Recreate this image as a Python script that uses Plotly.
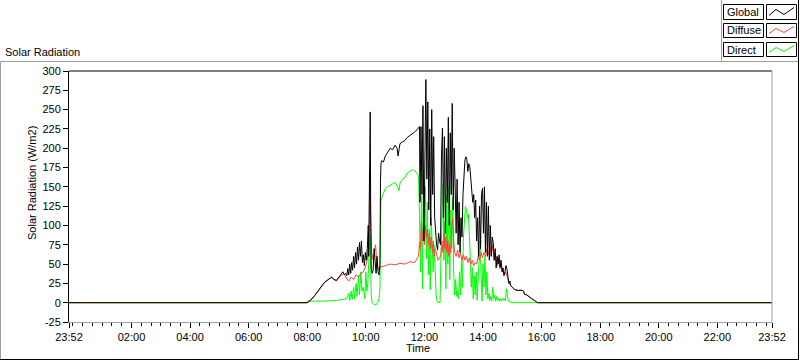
import plotly.graph_objects as go

# ---------------- data ----------------
global_times = ["23:52", "08:00", "08:05", "08:10", "08:15", "08:20", "08:25", "08:30", "08:35", "08:40",
                "08:45", "08:50", "08:55", "09:00", "09:05", "09:10", "09:13", "09:16", "09:19", "09:21",
                "09:23", "09:25", "09:27", "09:29", "09:31", "09:33", "09:35", "09:37", "09:39", "09:41",
                "09:43", "09:45", "09:47", "09:49", "09:51", "09:53", "09:55", "09:57", "09:59", "10:01",
                "10:03", "10:05", "10:06", "10:07", "10:08", "10:09", "10:10", "10:11", "10:13", "10:15",
                "10:17", "10:19", "10:21", "10:23", "10:25", "10:27", "10:29", "10:30", "10:31", "10:33",
                "10:36", "10:40", "10:45", "10:50", "10:55", "11:00", "11:04", "11:06", "11:08", "11:10",
                "11:15", "11:20", "11:25", "11:30", "11:35", "11:40", "11:45", "11:48", "11:50", "11:51",
                "11:53", "11:55", "11:57", "11:59", "12:01", "12:03", "12:05", "12:07", "12:09", "12:11",
                "12:13", "12:15", "12:17", "12:19", "12:21", "12:23", "12:25", "12:27", "12:29", "12:31",
                "12:33", "12:35", "12:37", "12:39", "12:41", "12:43", "12:45", "12:47", "12:49", "12:51",
                "12:53", "12:55", "12:57", "12:59", "13:01", "13:03", "13:05", "13:07", "13:09", "13:11",
                "13:13", "13:15", "13:17", "13:19", "13:21", "13:23", "13:25", "13:27", "13:29", "13:31",
                "13:33", "13:35", "13:37", "13:39", "13:41", "13:43", "13:45", "13:47", "13:49", "13:51",
                "13:53", "13:55", "13:57", "13:59", "14:01", "14:03", "14:05", "14:07", "14:09", "14:11",
                "14:13", "14:15", "14:17", "14:19", "14:21", "14:23", "14:25", "14:27", "14:29", "14:31",
                "14:33", "14:35", "14:37", "14:39", "14:41", "14:43", "14:45", "14:47", "14:49", "14:51",
                "14:53", "14:55", "14:57", "15:00", "15:05", "15:10", "15:15", "15:20", "15:23", "15:25",
                "15:30", "15:35", "15:40", "15:45", "15:50", "15:52", "23:52"]
global_values = [0, 0, 2, 5, 9, 13, 18, 22, 26, 29,
                 31, 33, 30, 29, 33, 38, 40, 36, 38, 35,
                 44, 36, 50, 38, 52, 42, 60, 45, 65, 50,
                 72, 55, 78, 60, 80, 52, 62, 48, 65, 55,
                 70, 100, 60, 130, 225, 247, 110, 45, 38, 42,
                 70, 45, 38, 60, 40, 36, 50, 156, 180, 184,
                 182, 190, 196, 200, 198, 204, 200, 190, 198, 206,
                 208, 210, 214, 216, 218, 221, 224, 226, 228, 130,
                 228, 140, 255, 80, 200, 289, 160, 260, 120, 225,
                 100, 250, 140, 215, 110, 90, 75, 68, 90, 80,
                 75, 190, 226, 110, 215, 90, 200, 130, 240, 100,
                 220, 140, 258, 120, 200, 150, 90, 160, 75, 130,
                 65, 110, 85, 140, 170, 185, 189, 185, 170, 180,
                 176, 160, 145, 130, 140, 110, 133, 80, 110, 60,
                 125, 70, 140, 148, 90, 150, 65, 130, 60, 125,
                 55, 100, 60, 85, 78, 55, 70, 45, 60, 50,
                 62, 46, 55, 40, 45, 35, 40, 48, 44, 30,
                 25, 28, 22, 20, 17, 16, 16, 16, 15, 11,
                 10, 7, 5, 3, 1, 0, 0]

diffuse_times = ["23:52", "08:00", "08:10", "08:20", "08:27", "08:35", "08:45", "08:50", "08:55", "09:00",
                 "09:05", "09:10", "09:15", "09:20", "09:25", "09:30", "09:35", "09:40", "09:45", "09:50",
                 "09:55", "10:00", "10:03", "10:05", "10:07", "10:08", "10:09", "10:10", "10:12", "10:15",
                 "10:18", "10:20", "10:22", "10:25", "10:28", "10:30", "10:40", "10:50", "11:00", "11:10",
                 "11:20", "11:30", "11:40", "11:45", "11:48", "11:50", "11:52", "11:54", "11:56", "11:58",
                 "12:00", "12:02", "12:04", "12:06", "12:08", "12:10", "12:12", "12:14", "12:16", "12:18",
                 "12:20", "12:22", "12:25", "12:28", "12:31", "12:34", "12:36", "12:38", "12:40", "12:42",
                 "12:44", "12:46", "12:48", "12:50", "12:52", "12:54", "12:56", "12:58", "13:00", "13:02",
                 "13:05", "13:08", "13:11", "13:14", "13:17", "13:20", "13:23", "13:26", "13:29", "13:32",
                 "13:35", "13:38", "13:41", "13:44", "13:47", "13:50", "13:53", "13:56", "13:59", "14:02",
                 "14:05", "14:08", "14:11", "14:14", "14:17", "14:20", "14:23", "14:26", "14:29", "14:32",
                 "14:35", "14:38", "14:41", "14:44", "14:47", "14:50", "14:53", "14:57", "15:00", "15:05",
                 "15:10", "15:15", "15:20", "15:23", "15:25", "15:30", "15:35", "15:40", "15:45", "15:50",
                 "15:52", "23:52"]
diffuse_values = [0, 0, 5, 13, 20, 26, 31, 33, 30, 28,
                  33, 36, 38, 32, 28, 33, 30, 36, 33, 38,
                  40, 48, 55, 75, 90, 170, 140, 85, 65, 55,
                  70, 75, 55, 45, 42, 46, 48, 50, 49, 51,
                  50, 53, 52, 57, 60, 78, 70, 105, 80, 95,
                  75, 100, 85, 95, 75, 90, 70, 85, 65, 80,
                  60, 70, 60, 55, 58, 62, 80, 65, 90, 70,
                  85, 65, 80, 60, 75, 65, 100, 110, 80, 65,
                  60, 68, 58, 65, 55, 62, 55, 60, 52, 58,
                  50, 55, 48, 52, 50, 60, 55, 65, 58, 65,
                  60, 70, 62, 72, 60, 75, 55, 62, 48, 55,
                  44, 48, 40, 36, 40, 32, 25, 22, 20, 17,
                  16, 16, 16, 15, 11, 10, 7, 5, 3, 1,
                  0, 0]

direct_times = ["23:52", "07:59", "08:00", "08:30", "09:00", "09:15", "09:20", "09:25", "09:27", "09:30",
                "09:32", "09:35", "09:37", "09:40", "09:42", "09:45", "09:47", "09:50", "09:52", "09:55",
                "09:58", "10:00", "10:02", "10:04", "10:06", "10:07", "10:08", "10:09", "10:10", "10:11",
                "10:13", "10:16", "10:20", "10:24", "10:27", "10:29", "10:30", "10:31", "10:35", "10:40",
                "10:45", "10:50", "10:55", "11:00", "11:05", "11:08", "11:10", "11:15", "11:20", "11:25",
                "11:30", "11:35", "11:40", "11:45", "11:48", "11:50", "11:52", "11:54", "11:56", "11:58",
                "12:00", "12:02", "12:04", "12:06", "12:08", "12:10", "12:12", "12:14", "12:16", "12:18",
                "12:20", "12:22", "12:24", "12:26", "12:28", "12:30", "12:32", "12:34", "12:36", "12:38",
                "12:40", "12:42", "12:44", "12:46", "12:48", "12:50", "12:52", "12:54", "12:56", "12:58",
                "13:00", "13:02", "13:04", "13:06", "13:08", "13:10", "13:12", "13:14", "13:16", "13:18",
                "13:20", "13:22", "13:24", "13:26", "13:28", "13:30", "13:32", "13:34", "13:36", "13:38",
                "13:40", "13:42", "13:44", "13:46", "13:48", "13:50", "13:52", "13:54", "13:56", "13:58",
                "14:00", "14:02", "14:04", "14:06", "14:08", "14:10", "14:12", "14:14", "14:16", "14:18",
                "14:20", "14:22", "14:24", "14:26", "14:28", "14:30", "14:32", "14:34", "14:36", "14:38",
                "14:40", "14:42", "14:44", "14:46", "14:48", "14:50", "14:52", "14:55", "15:00", "23:52"]
direct_values = [0, 0, 2, 2, 3, 4, 5, 12, 3, 15,
                 4, 20, 5, 25, 8, 35, 10, 40, 15, 20,
                 5, 40, 15, 25, 50, 90, 70, 87, 40, 10,
                 0, -2, -3, 0, 5, 20, 100, 132, 140, 148,
                 150, 152, 155, 156, 150, 145, 155, 160, 162, 168,
                 170, 172, 171, 168, 165, 113, 40, 138, 18, 171,
                 75, 150, 57, 130, 36, 95, 17, 110, 55, 40,
                 75, 25, 10, 2, 0, 1, 0, 60, 130, 153,
                 55, 105, 18, 140, 50, 150, 30, 120, 70, 135,
                 40, 10, 30, 8, 15, 5, 40, 10, 55, 20,
                 85, 110, 125, 120, 110, 115, 95, 60, 20, 45,
                 5, 35, 10, 40, 3, 25, 60, 80, 40, 2,
                 50, 20, 60, 10, 40, 5, 12, 3, 8, 2,
                 20, 5, 10, 2, 8, 3, 6, 2, 5, 2,
                 6, 3, 5, 2, 18, 5, 2, 1, 0, 0]

x_tick_values = ["23:52", "02:00", "04:00", "06:00", "08:00", "10:00", "12:00",
                 "14:00", "16:00", "18:00", "20:00", "22:00", "23:52"]
y_tick_values = [-25, 0, 25, 50, 75, 100, 125, 150, 175, 200, 225, 250, 275, 300]
legend_names = ["Global", "Diffuse", "Direct"]
series_colors = ["#000000", "#ff4040", "#00ff00"]


def to_minutes(times):
    out = []
    for t in times:
        h, m = t.split(":")
        out.append(int(h) * 60 + int(m))
    if len(out) > 1 and out[0] > out[1]:
        out[0] -= 1440  # first point belongs to previous day
    return out


x_ticks = to_minutes(x_tick_values)
x_ticks[-1] = 1432

FONT = "Liberation Sans"
L, R, T, B = 69, 28, 71, 39
W, H = 800, 361
PW, PH = W - L - R, H - T - B


def px(x):
    return (x - L) / PW


def py(y):
    return (H - B - y) / PH


fig = go.Figure()
order = [(direct_times, direct_values, 2), (diffuse_times, diffuse_values, 1),
         (global_times, global_values, 0)]
for times, vals, idx in order:
    fig.add_trace(go.Scatter(x=to_minutes(times), y=vals, mode="lines",
                             line=dict(color=series_colors[idx], width=1),
                             name=legend_names[idx], showlegend=False))

fig.update_layout(
    width=W, height=H,
    margin=dict(l=L, r=R, t=T, b=B),
    paper_bgcolor="white", plot_bgcolor="white",
    font=dict(family=FONT, size=11, color="black"),
    showlegend=False,
)
fig.update_xaxes(
    range=[-8, 1432], showgrid=False, zeroline=False,
    showline=True, linecolor="#a0a0a0", linewidth=1,
    tickmode="array", tickvals=x_ticks, ticktext=x_tick_values,
    ticks="outside", ticklen=5, tickcolor="black", tickwidth=1,
    minor=dict(ticks="outside", ticklen=3, dtick=20, tick0=0, tickcolor="black", tickwidth=1),
    tickfont=dict(family=FONT, size=11, color="black"),
)
fig.update_yaxes(
    range=[-25, 300], showgrid=False, zeroline=False,
    showline=True, linecolor="black", linewidth=1,
    tickmode="array", tickvals=y_tick_values, ticktext=[str(v) for v in y_tick_values],
    ticks="outside", ticklen=5, tickcolor="black", tickwidth=1,
    tickfont=dict(family=FONT, size=11, color="black"),
)

shapes = []
# plot frame: top black, right gray
shapes.append(dict(type="line", xref="paper", yref="paper", x0=0, x1=1, y0=1, y1=1,
                   line=dict(color="black", width=1)))
shapes.append(dict(type="line", xref="paper", yref="paper", x0=1, x1=1, y0=0, y1=1,
                   line=dict(color="#a0a0a0", width=1)))
# outer panel
shapes.append(dict(type="line", xref="paper", yref="paper", x0=px(0.5), x1=px(798), y0=py(61.5), y1=py(61.5),
                   line=dict(color="#a0a0a0", width=1)))
shapes.append(dict(type="line", xref="paper", yref="paper", x0=px(0.5), x1=px(0.5), y0=py(61.5), y1=py(360),
                   line=dict(color="#a0a0a0", width=1)))
shapes.append(dict(type="line", xref="paper", yref="paper", x0=px(0), x1=px(799), y0=py(359.5), y1=py(359.5),
                   line=dict(color="black", width=1)))
shapes.append(dict(type="line", xref="paper", yref="paper", x0=px(798.5), x1=px(798.5), y0=py(0), y1=py(360),
                   line=dict(color="black", width=1)))
shapes.append(dict(type="line", xref="paper", yref="paper", x0=px(721.5), x1=px(721.5), y0=py(0), y1=py(61.5),
                   line=dict(color="#a0a0a0", width=1)))

annotations = []
rows = [(4.5, 19.5), (23.5, 37.5), (42.5, 56.5)]
for i, (y0, y1) in enumerate(rows):
    shapes.append(dict(type="rect", xref="paper", yref="paper", x0=px(723.5), x1=px(763.5),
                       y0=py(y1), y1=py(y0), line=dict(color="black", width=1)))
    shapes.append(dict(type="rect", xref="paper", yref="paper", x0=px(766.5), x1=px(796.5),
                       y0=py(y1), y1=py(y0), line=dict(color="black", width=1)))
    zz = [(769, y1 - 4), (776, y0 + 5), (784, y1 - 5), (794, y0 + 3)]
    path = "M " + " L ".join(f"{px(a):.5f},{py(b):.5f}" for a, b in zz)
    shapes.append(dict(type="path", xref="paper", yref="paper", path=path,
                       line=dict(color=series_colors[i], width=1)))
    annotations.append(dict(text=legend_names[i], xref="paper", yref="paper",
                            x=px(725), y=py((y0 + y1) / 2), xanchor="left", yanchor="middle",
                            showarrow=False, font=dict(family=FONT, size=11, color="black")))

annotations.append(dict(text="Solar Radiation", xref="paper", yref="paper", x=px(3), y=py(52),
                        xanchor="left", yanchor="middle", showarrow=False,
                        font=dict(family=FONT, size=11, color="black")))
annotations.append(dict(text="Solar Radiation (W/m2)", xref="paper", yref="paper", x=px(32), y=py(183),
                        xanchor="center", yanchor="middle", textangle=-90, showarrow=False,
                        font=dict(family=FONT, size=11, color="black")))
annotations.append(dict(text="Time", xref="paper", yref="paper", x=px(418), y=py(348),
                        xanchor="center", yanchor="middle", showarrow=False,
                        font=dict(family=FONT, size=11, color="black")))

fig.update_layout(shapes=shapes, annotations=annotations)
fig.write_html("out.html", config={"displayModeBar": False},
               post_script="document.body.style.margin='0';document.body.style.padding='0';"
                           "document.body.style.overflow='hidden';")
